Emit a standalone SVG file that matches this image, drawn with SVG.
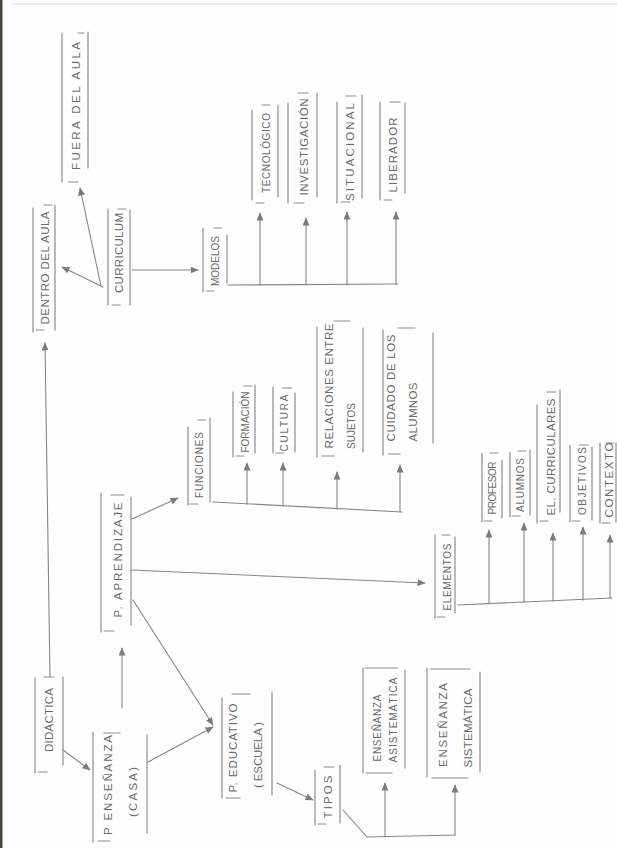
<svg xmlns="http://www.w3.org/2000/svg" width="617" height="848" viewBox="0 0 617 848">
<defs>
<marker id="ah" markerUnits="userSpaceOnUse" markerWidth="8" markerHeight="7" refX="7.5" refY="3.5" orient="auto">
<path d="M0,0 L8,3.5 L0,7 Z" fill="#7a7a7a"/>
</marker>
<style>
.box{fill:none;stroke:#8c8c8c;stroke-width:1.2;stroke-linecap:round}
.t{font-family:"Liberation Sans","DejaVu Sans",sans-serif;font-size:11.5px;fill:#6a6a6a;text-anchor:middle;dominant-baseline:central}
.s{font-size:10px}
.c{fill:none;stroke:#858585;stroke-width:1.1;stroke-linecap:round}
.a{marker-end:url(#ah)}
</style>
</defs>
<rect width="617" height="848" fill="#fefefe"/>
<rect x="0" y="0" width="2.5" height="848" fill="#4a4136"/>
<line x1="12" y1="4" x2="617" y2="4" stroke="#dcdcdc" stroke-width="1"/>

<g id="connectors">
<path class="c a" d="M50 677 L45 343"/>
<path class="c a" d="M63 750 L90 770"/>
<path class="c a" d="M122 708 L122 648"/>
<path class="c a" d="M148 762 L213 727"/>
<path class="c a" d="M133 600 L213 725"/>
<path class="c a" d="M132 519 L178 498"/>
<path class="c a" d="M131 570 L425 583"/>
<path class="c a" d="M103 287 L62 267"/>
<path class="c a" d="M101 286 L80 188"/>
<path class="c a" d="M132 270 L198 270"/>
<path class="c" d="M228 285 L398 284"/>
<path class="c a" d="M260 285 V213"/>
<path class="c a" d="M306 285 V218"/>
<path class="c a" d="M347 285 V212"/>
<path class="c a" d="M396 284 V212"/>
<path class="c" d="M213 502 L402 512"/>
<path class="c a" d="M247 504 V463"/>
<path class="c a" d="M283 506 V463"/>
<path class="c a" d="M337 509 V472"/>
<path class="c a" d="M400 512 V465"/>
<path class="c" d="M458 605 L612 598"/>
<path class="c a" d="M489 603 V530"/>
<path class="c a" d="M524 602 V523"/>
<path class="c a" d="M553 601 V533"/>
<path class="c a" d="M583 600 V527"/>
<path class="c a" d="M610 598 V535"/>
<path class="c a" d="M277 783 L313 800"/>
<path class="c" d="M343 810 L367 837 L455 835"/>
<path class="c a" d="M385 837 V783"/>
<path class="c a" d="M455 835 V785"/>
</g>

<g id="fuera">
<path class="box" d="M62 33 V182 M88 32 V168 M78 33 H84 M68 182 H78"/>
<text class="t" transform="translate(76,106) rotate(-90)" textLength="128" lengthAdjust="spacing">FUERA DEL AULA</text>
</g>
<g id="dentro">
<path class="box" d="M33 208 V332 M55 205 V330 M44 205 H52 M36 330 H44"/>
<text class="t" transform="translate(45,268) rotate(-90)" textLength="113" lengthAdjust="spacing">DENTRO DEL AULA</text>
</g>
<g id="curriculum">
<path class="box" d="M108 209 V305 M130 210 V305 M118 209 H126 M112 305 H120"/>
<text class="t" transform="translate(119,253) rotate(-90)" textLength="80" lengthAdjust="spacing">CURRICULUM</text>
</g>
<g id="modelos">
<path class="box" d="M203 228 V292 M227 235 V283 M214 228 H222 M206 291 H214"/>
<text class="t s" transform="translate(215,261) rotate(-90)">MODELOS</text>
</g>
<g id="tecnologico">
<path class="box" d="M252 110 V200 M278 105 V197 M262 105 H270 M256 203 H264"/>
<text class="t s" transform="translate(266,153) rotate(-90)" textLength="80" lengthAdjust="spacing">TECNOLÓGICO</text>
</g>
<g id="investigacion">
<path class="box" d="M288 103 V203 M317 93 V197 M298 93 H308 M294 203 H304"/>
<text class="t" transform="translate(304,147) rotate(-90)" textLength="97" lengthAdjust="spacing">INVESTIGACIÓN</text>
</g>
<g id="situacional">
<path class="box" d="M337 102 V203 M362 95 V198 M346 96 H356 M341 202 H350"/>
<text class="t" transform="translate(350,152) rotate(-90)" textLength="98" lengthAdjust="spacing">SITUACIONAL</text>
</g>
<g id="liberador">
<path class="box" d="M380 102 V200 M405 103 V193 M390 102 H400 M384 200 H392"/>
<text class="t" transform="translate(393,155) rotate(-90)" textLength="75" lengthAdjust="spacing">LIBERADOR</text>
</g>
<g id="didactica">
<path class="box" d="M35 678 V773 M63 677 V765 M44 677 H54 M38 772 H47"/>
<text class="t" transform="translate(49,720) rotate(-90)" textLength="64" lengthAdjust="spacing">DIDÁCTICA</text>
</g>
<g id="ensenanza_casa">
<path class="box" d="M93 732 V842 M147 735 V833 M104 733 H120 M98 841 H110"/>
<text class="t" transform="translate(108,785) rotate(-90)" textLength="100" lengthAdjust="spacing">P ENSEÑANZA</text>
<text class="t" transform="translate(133,792) rotate(-90)" textLength="50" lengthAdjust="spacing">(CASA)</text>
</g>
<g id="aprendizaje">
<path class="box" d="M101 493 V632 M131 497 V625 M111 495 H124 M104 631 H114"/>
<text class="t" transform="translate(118,560) rotate(-90)" textLength="115" lengthAdjust="spacing">P. APRENDIZAJE</text>
</g>
<g id="funciones">
<path class="box" d="M188 427 V505 M210 418 V502 M198 420 H206 M190 504 H198"/>
<text class="t s" transform="translate(199,465) rotate(-90)" textLength="66" lengthAdjust="spacing">FUNCIONES</text>
</g>
<g id="formacion">
<path class="box" d="M233 392 V457 M255 385 V453 M244 386 H252 M236 456 H244"/>
<text class="t s" transform="translate(245,422) rotate(-90)">FORMACIÓN</text>
</g>
<g id="cultura">
<path class="box" d="M273 387 V453 M295 393 V452 M282 388 H292 M276 453 H284"/>
<text class="t s" transform="translate(284,423) rotate(-90)" textLength="57" lengthAdjust="spacing">CULTURA</text>
</g>
<g id="relaciones">
<path class="box" d="M317 327 V457 M363 328 V452 M334 321 H350 M322 456 H334"/>
<text class="t" transform="translate(329,386) rotate(-90)" textLength="125" lengthAdjust="spacing">RELACIONES ENTRE</text>
<text class="t s" transform="translate(351,426) rotate(-90)">SUJETOS</text>
</g>
<g id="cuidado">
<path class="box" d="M383 330 V455 M433 333 V443 M398 328 H415 M388 454 H400"/>
<text class="t" transform="translate(391,388) rotate(-90)" textLength="107" lengthAdjust="spacing">CUIDADO DE LOS</text>
<text class="t" transform="translate(413,412) rotate(-90)" textLength="59" lengthAdjust="spacing">ALUMNOS</text>
</g>
<g id="elementos">
<path class="box" d="M435 535 V618 M455 537 V613 M442 535 H450 M437 617 H445"/>
<text class="t s" transform="translate(447,577) rotate(-90)" textLength="67" lengthAdjust="spacing">ELEMENTOS</text>
</g>
<g id="profesor">
<path class="box" d="M482 453 V522 M502 460 V518 M490 453 H498 M484 521 H492"/>
<text class="t s" transform="translate(492,488) rotate(-90)" textLength="53" lengthAdjust="spacing">PROFESOR</text>
</g>
<g id="alumnos">
<path class="box" d="M510 452 V517 M530 450 V515 M518 451 H526 M512 516 H520"/>
<text class="t s" transform="translate(520,485) rotate(-90)" textLength="54" lengthAdjust="spacing">ALUMNOS</text>
</g>
<g id="el_curriculares">
<path class="box" d="M537 405 V523 M560 390 V512 M547 392 H556 M540 521 H548"/>
<text class="t" transform="translate(551,457) rotate(-90)" textLength="117" lengthAdjust="spacing">EL. CURRICULARES</text>
</g>
<g id="objetivos">
<path class="box" d="M570 445 V522 M592 447 V520 M579 445 H588 M572 521 H580"/>
<text class="t s" transform="translate(582,481) rotate(-90)" textLength="68" lengthAdjust="spacing">OBJETIVOS</text>
</g>
<g id="contexto">
<path class="box" d="M600 443 V523 M616 443 V522 M606 443 H614 M602 523 H610"/>
<text class="t" transform="translate(609,480) rotate(-90)" textLength="75" lengthAdjust="spacing">CONTEXTO</text>
</g>
<g id="educativo">
<path class="box" d="M222 698 V798 M272 692 V795 M232 694 H250 M226 798 H240"/>
<text class="t" transform="translate(233,748) rotate(-90)" textLength="89" lengthAdjust="spacing">P. EDUCATIVO</text>
<text class="t" transform="translate(258,755) rotate(-90)" textLength="66" lengthAdjust="spacing">( ESCUELA )</text>
</g>
<g id="tipos">
<path class="box" d="M315 770 V825 M340 765 V823 M324 767 H334 M318 824 H326"/>
<text class="t" transform="translate(328,797) rotate(-90)" textLength="43" lengthAdjust="spacing">TIPOS</text>
</g>
<g id="asistematica">
<path class="box" d="M363 668 V773 M405 670 V768 M365 668 H398 M366 773 H392"/>
<text class="t s" transform="translate(377,728) rotate(-90)" textLength="67" lengthAdjust="spacing">ENSEÑANZA</text>
<text class="t s" transform="translate(393,720) rotate(-90)" textLength="85" lengthAdjust="spacing">ASISTEMÁTICA</text>
</g>
<g id="sistematica">
<path class="box" d="M427 668 V777 M480 672 V772 M430 669 H470 M432 778 H468"/>
<text class="t" transform="translate(443,725) rotate(-90)" textLength="84" lengthAdjust="spacing">ENSEÑANZA</text>
<text class="t" transform="translate(468,728) rotate(-90)" textLength="79" lengthAdjust="spacing">SISTEMÁTICA</text>
</g>
</svg>
